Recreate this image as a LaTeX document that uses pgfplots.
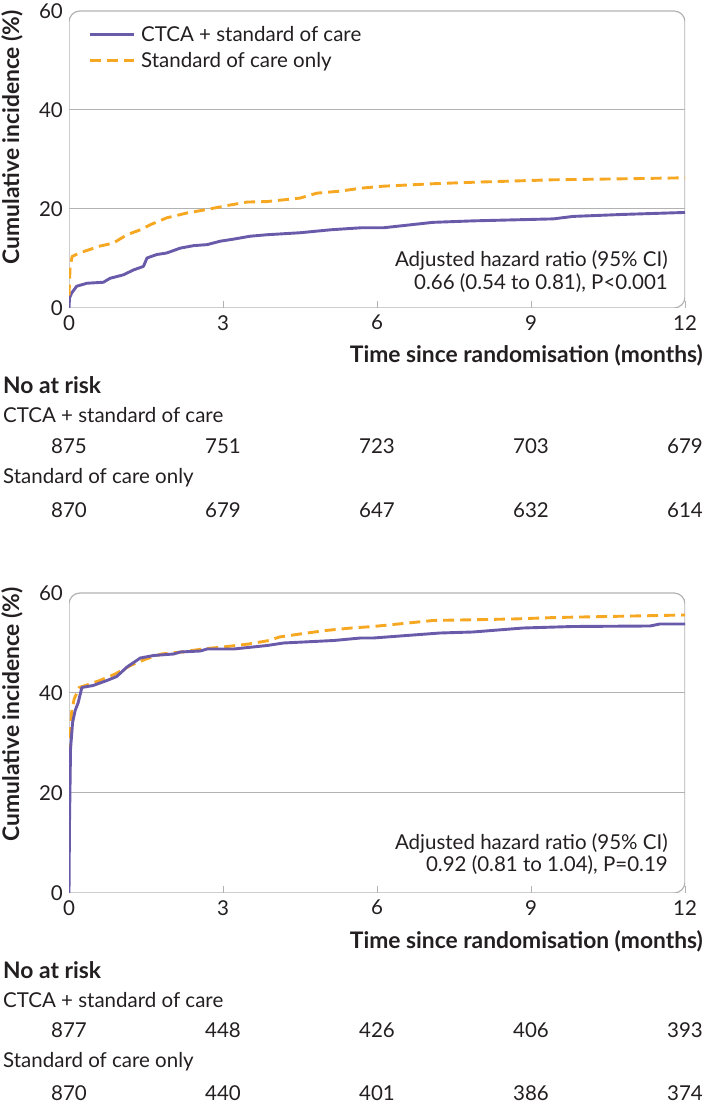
\documentclass[border=0pt]{standalone}
\usepackage{fontspec}
\setmainfont{Lato}
\usepackage{pgfplots}
\pgfplotsset{compat=1.18}
\definecolor{cpur}{RGB}{106,90,170}
\definecolor{corg}{RGB}{247,168,35}
\definecolor{cgr}{RGB}{178,178,178}
\definecolor{ctxt}{RGB}{35,31,32}
\newcommand{\fs}{\fontsize{20.5}{24}\selectfont}
\newcommand{\fb}{\fontsize{22.8}{26}\selectfont\bfseries}
\begin{document}
\begin{tikzpicture}[x=1pt,y=1pt]
\path[use as bounding box] (0,0) rectangle (703,1108);
\pgfplotsset{kmstyle/.style={
  scale only axis, width=616pt, xmin=0, xmax=12, ymin=0, ymax=60,
  axis line style={draw=none},
  xtick={0,3,6,9,12}, ytick={0,20,40,60},
  xtick pos=bottom, ytick pos=left,
  major tick length=7pt,
  xtick style={cgr, line width=1pt},
  ytick style={draw=none},
  tick label style={font=\fs, text=ctxt},
  /pgf/number format/assume math mode=true,
  yticklabel style={inner sep=0pt, xshift=-6pt},
  xticklabel style={inner sep=0pt, yshift=-7pt},
  every axis plot/.append style={line width=2.9pt, line join=round},
}}
% ---------- top panel ----------
\begin{axis}[kmstyle, height=297pt, at={(69pt,800pt)}, anchor=south west,
  legend cell align=left,
  legend style={draw=none, fill=none, font=\fs, text=ctxt, at={(axis description cs:0.031,0.95)}, anchor=north west, row sep=10pt, inner sep=0pt, nodes={inner sep=0pt}, column sep=6pt},
  legend image code/.code={\draw[#1, line width=2.9pt] (0pt,0pt) -- (44pt,0pt);},
]
\draw[cgr, line width=1pt] (axis cs:0,20) -- (axis cs:12,20);
\draw[cgr, line width=1pt] (axis cs:0,40) -- (axis cs:12,40);
\draw[cgr, line width=1.2pt, rounded corners=11pt] (axis cs:0,0) -- (axis cs:0,60) -- (axis cs:12,60) -- (axis cs:12,0) -- (axis cs:0,0);
\addplot[cpur] coordinates {(0,0) (0.01,2.0) (0.05,3.0) (0.15,4.4) (0.35,5.0) (0.67,5.2) (0.8,6.0) (1.06,6.7) (1.26,7.7) (1.45,8.4) (1.52,10.1) (1.71,10.8) (1.9,11.1) (2.17,12.1) (2.43,12.6) (2.69,12.8) (2.95,13.5) (3.2,13.9) (3.53,14.5) (3.86,14.8) (4.5,15.2) (5.1,15.8) (5.68,16.2) (6.12,16.2) (7.09,17.3) (7.87,17.6) (9.43,18.0) (9.82,18.5) (10.79,18.9) (12,19.3)};
\addlegendentry{CTCA + standard of care}
\addplot[corg, dash pattern=on 11pt off 6pt] coordinates {(0,2.5) (0.02,8) (0.06,10.4) (0.2,11.1) (0.6,12.5) (0.86,13.1) (1.13,14.8) (1.39,15.8) (1.58,16.8) (1.9,18.2) (2.3,19.2) (2.69,19.9) (3.08,20.7) (3.47,21.4) (3.86,21.5) (4.5,22.2) (4.83,23.2) (5.28,23.6) (5.68,24.2) (6.12,24.6) (7.09,25.1) (7.87,25.4) (9.43,25.9) (10.79,26.1) (12,26.3)};
\addlegendentry{Standard of care only}
\end{axis}
% ---------- bottom panel ----------
\begin{axis}[kmstyle, height=300pt, at={(69pt,215pt)}, anchor=south west]
\draw[cgr, line width=1pt] (axis cs:0,20) -- (axis cs:12,20);
\draw[cgr, line width=1pt] (axis cs:0,40) -- (axis cs:12,40);
\draw[cgr, line width=1.2pt, rounded corners=11pt] (axis cs:0,0) -- (axis cs:0,60) -- (axis cs:12,60) -- (axis cs:12,0) -- (axis cs:0,0);
\addplot[corg, dash pattern=on 11pt off 6pt] coordinates {(0,14) (0.02,30.8) (0.05,36.1) (0.1,38.8) (0.2,41.1) (0.35,41.6) (0.6,42.5) (0.9,43.8) (1.2,45.5) (1.5,46.8) (1.8,47.8) (2.2,48.2) (2.6,48.8) (3.0,49.2) (3.5,49.8) (3.9,50.5) (4.1,51.2) (4.5,51.8) (5.0,52.5) (5.5,53.0) (5.93,53.3) (7.09,54.5) (8.65,54.8) (9.49,55.1) (12,55.6)};
\addplot[cpur] coordinates {(0,0) (0.01,14) (0.03,28.8) (0.07,34.1) (0.12,36.5) (0.18,38.1) (0.25,41.1) (0.47,41.5) (0.74,42.5) (0.93,43.3) (1.13,45.2) (1.39,47.0) (1.65,47.5) (2.04,47.8) (2.17,48.2) (2.56,48.4) (2.69,48.8) (3.21,48.8) (3.86,49.5) (4.18,50.0) (5.16,50.5) (5.68,51.0) (5.93,51.0) (6.58,51.5) (7.23,52.0) (7.87,52.2) (8.85,53.0) (9.82,53.3) (11.32,53.4) (11.51,53.8) (12,53.8)};
\end{axis}
% ---------- text ----------
\begin{scope}[every node/.style={font=\fs, text=ctxt, inner sep=0pt}]
% y labels
\node[rotate=90, anchor=east, font=\fb] at (12,1098) {Cumulative incidence (\%)};
\node[rotate=90, anchor=east, font=\fb] at (12,521) {Cumulative incidence (\%)};
% annotations
\node[anchor=east] at (668,848) {Adjusted hazard ratio (95\% CI)};
\node[anchor=east] at (668,825) {0.66 (0.54 to 0.81), P<0.001};
\node[anchor=east] at (668,265) {Adjusted hazard ratio (95\% CI)};
\node[anchor=east] at (668,243) {0.92 (0.81 to 1.04), P=0.19};
% top risk table
\node[anchor=east, font=\fb] at (703,753) {Time since randomisation (months)};
\node[anchor=west, font=\fb] at (3,723) {No at risk};
\node[anchor=west] at (3,693) {CTCA + standard of care};
\node at (69,662) {875};\node at (223,662) {751};\node at (377,662) {723};\node at (531,662) {703};\node at (685,662) {679};
\node[anchor=west] at (3,630) {Standard of care only};
\node at (69,598) {870};\node at (223,598) {679};\node at (377,598) {647};\node at (531,598) {632};\node at (685,598) {614};
% bottom risk table
\node[anchor=east, font=\fb] at (703,167) {Time since randomisation (months)};
\node[anchor=west, font=\fb] at (3,138) {No at risk};
\node[anchor=west] at (3,108) {CTCA + standard of care};
\node at (69,78) {877};\node at (223,78) {448};\node at (377,78) {426};\node at (531,78) {406};\node at (685,78) {393};
\node[anchor=west] at (3,46) {Standard of care only};
\node at (69,15) {870};\node at (223,15) {440};\node at (377,15) {401};\node at (531,15) {386};\node at (685,15) {374};
\end{scope}
\end{tikzpicture}
\end{document}
